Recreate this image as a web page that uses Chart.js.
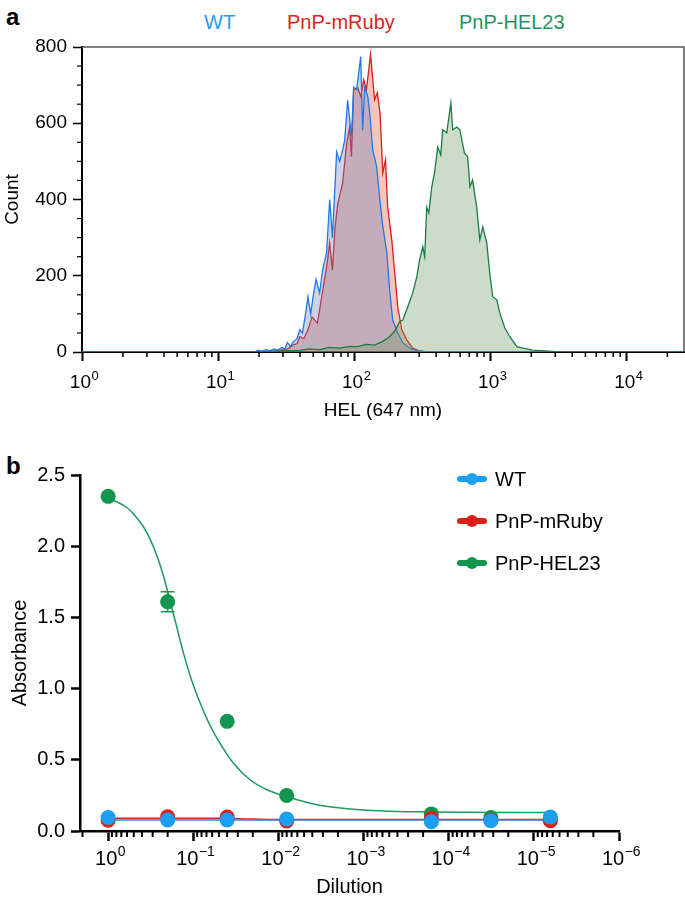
<!DOCTYPE html>
<html>
<head>
<meta charset="utf-8">
<script src="https://cdn.jsdelivr.net/npm/chart.js@4.4.1/dist/chart.umd.min.js"></script>
<style>
    body { margin: 0; width: 685px; height: 904px; background: #fff; position: relative; overflow: hidden;
           font-family: "Liberation Sans", Arial, Helvetica, sans-serif; }
    .panel { position: absolute; left: 0; width: 685px; }
    #wrapA { top: 0; height: 440px; }
    #wrapB { top: 440px; height: 464px; }
    .tag { position: absolute; left: 6px; font-weight: bold; font-size: 24px; line-height: 24px; }
    .hdr { position: absolute; top: 11px; font-size: 20px; line-height: 22px; }
    .leg { position: absolute; left: 457px; font-size: 20px; line-height: 22px; color: #000; }
    .sym { position: absolute; left: 0; top: 8px; width: 30px; height: 6px; border-radius: 3px; }
    .sym::after { content: ''; position: absolute; left: 9px; top: -3px; width: 12px; height: 12px; border-radius: 6px; background: inherit; }
    .leg span { position: absolute; left: 38px; top: 0; white-space: nowrap; }
</style>
</head>
<body>
<div class="tag" style="top:5px">a</div>
<div class="tag" style="top:454px">b</div>

<div class="hdr" style="left:204px; color:#2a9bf0">WT</div>
<div class="hdr" style="left:287px; color:#d8261d">PnP-mRuby</div>
<div class="hdr" style="left:459px; color:#1e9560">PnP-HEL23</div>

<div class="panel" id="wrapA"><canvas id="chartA" width="685" height="440"></canvas></div>
<div class="panel" id="wrapB"><canvas id="chartB" width="685" height="464"></canvas></div>

<div class="leg" style="top:468px"><div class="sym" style="background:#1c9ff0"></div><span>WT</span></div>
<div class="leg" style="top:510px"><div class="sym" style="background:#dd1f1a"></div><span>PnP-mRuby</span></div>
<div class="leg" style="top:552px"><div class="sym" style="background:#139550"></div><span>PnP-HEL23</span></div>

<script>
// ---- panel a: flow histograms (x = log10 of HEL intensity) ----
const wtExp = [0, 1.27, 1.29, 1.32, 1.35, 1.38, 1.41, 1.44, 1.47, 1.49, 1.51, 1.53, 1.555, 1.58, 1.60, 1.62, 1.64, 1.66, 1.68, 1.70,
    1.72, 1.746, 1.768, 1.797, 1.82, 1.84, 1.871, 1.893, 1.915, 1.93, 1.952, 1.98, 1.996, 2.018, 2.048, 2.062, 2.077, 2.10, 2.114, 2.136,
    2.165, 2.188, 2.21, 2.24, 2.26, 2.283, 2.32, 2.357, 2.408, 2.445, 2.496, 2.54, 4.43];
const wtCount = [0, 0, 5, 2, 6, 3, 8, 5, 12, 8, 25, 15, 28, 35, 58, 50, 95, 145, 100, 150,
    190, 155, 215, 260, 400, 300, 525, 500, 530, 555, 660, 565, 695, 688, 775, 582, 695, 670, 627, 530,
    486, 400, 330, 260, 163, 84, 50, 24, 10, 5, 2, 0, 0];

const rubyExp = [0, 1.39, 1.45, 1.51, 1.55, 1.58, 1.60, 1.63, 1.66, 1.69, 1.73, 1.75, 1.77, 1.80, 1.82, 1.84, 1.86, 1.88, 1.915, 1.945,
    1.967, 1.98, 1.996, 2.026, 2.048, 2.07, 2.09, 2.12, 2.15, 2.17, 2.19, 2.21, 2.23, 2.246, 2.276, 2.298, 2.32, 2.35, 2.386, 2.43,
    2.48, 2.54, 4.43];
const rubyCount = [0, 0, 4, 8, 18, 22, 40, 35, 58, 92, 76, 120, 163, 230, 286, 215, 330, 390, 443, 548,
    590, 512, 688, 693, 670, 714, 688, 780, 662, 680, 627, 470, 504, 380, 294, 207, 118, 58, 32, 10,
    3, 0, 0];

const helExp = [0, 1.27, 1.45, 1.60, 1.67, 1.746, 1.82, 1.893, 1.967, 2.026, 2.09, 2.15, 2.21, 2.26, 2.298, 2.335, 2.357, 2.393, 2.43, 2.46,
    2.48, 2.504, 2.518, 2.533, 2.548, 2.57, 2.59, 2.614, 2.636, 2.65, 2.68, 2.71, 2.724, 2.754, 2.776, 2.81, 2.834, 2.85, 2.87, 2.90,
    2.923, 2.945, 2.974, 2.996, 3.018, 3.048, 3.07, 3.107, 3.143, 3.195, 3.24, 3.31, 3.40, 3.51, 4.43];
const helCount = [0, 0, 3, 4, 8, 6, 12, 10, 15, 14, 20, 18, 28, 40, 55, 80, 84, 118, 155, 197,
    241, 276, 250, 380, 365, 433, 470, 538, 517, 583, 575, 653, 583, 590, 583, 522, 512, 433, 451, 380,
    294, 328, 286, 207, 145, 137, 102, 63, 40, 14, 10, 5, 3, 0, 0];

const histPowers = [0, 1, 2, 3, 4];
const countTicks = [0, 200, 400, 600, 800];

// ---- panel b: ELISA dilution series ----
const dilution = [1, 0.2, 0.04, 0.008, 0.00016, 0.000032, 0.0000064];
const wtAbs = [0.095, 0.077, 0.077, 0.084, 0.065, 0.072, 0.098];
const rubyAbs = [0.075, 0.100, 0.098, 0.070, 0.090, 0.075, 0.072];
const hel23Abs = [2.35, 1.61, 0.77, 0.25, 0.12, 0.094, 0.09];
const hel23Sem = [0, 0.07, 0, 0, 0, 0, 0];

// fitted curves (x as log10 dilution)
const hel23FitExp = [0, -0.106, -0.223, -0.293, -0.411, -0.493, -0.575, -0.646, -0.704, -0.786,
    -0.88, -0.986, -1.08, -1.174, -1.279, -1.373, -1.467, -1.667, -1.866, -2.101, -2.453, -2.84, -3.627, -5.19];
const hel23FitAbs = [2.33, 2.31, 2.27, 2.23, 2.14, 2.05, 1.93, 1.80, 1.67, 1.48,
    1.26, 1.05, 0.90, 0.77, 0.65, 0.56, 0.48, 0.36, 0.29, 0.24, 0.185, 0.155, 0.135, 0.13];
const rubyFitExp = [0, -1.3, -1.7, -2.1, -5.19];
const rubyFitAbs = [0.09, 0.09, 0.084, 0.08, 0.08];
const wtFitExp = [0, -5.19];
const wtFitAbs = [0.078, 0.078];

const dilutionPowers = [0, -1, -2, -3, -4, -5, -6];
const absTicks = [0, 0.5, 1.0, 1.5, 2.0, 2.5];

const FONT = '"Liberation Sans", Arial, Helvetica, sans-serif';

function toPoints(exps, ys) {
    return exps.map((e, i) => ({ x: Math.pow(10, e), y: ys[i] }));
}

function minorLogValues(lo, hi, maxVal) {
    const out = [];
    for (let n = lo; n <= hi; n++) {
        for (let k = 2; k <= 9; k++) {
            const v = k * Math.pow(10, n);
            if (v <= maxVal) out.push(v);
        }
    }
    return out;
}

// minor ticks, superscript tick labels, frame and error bars
const axisExtras = {
    id: 'axisExtras',
    beforeDatasetsDraw(chart, args, opts) {
        if (!opts.errors) return;
        const ctx = chart.ctx;
        const xs = chart.scales.x, ys = chart.scales.y;
        const e = opts.errors;
        ctx.save();
        ctx.strokeStyle = e.color;
        ctx.lineWidth = 1.5;
        e.x.forEach((xv, i) => {
            if (!e.err[i]) return;
            const px = xs.getPixelForValue(xv);
            const y1 = ys.getPixelForValue(e.y[i] - e.err[i]);
            const y2 = ys.getPixelForValue(e.y[i] + e.err[i]);
            ctx.beginPath();
            ctx.moveTo(px, y1); ctx.lineTo(px, y2);
            ctx.moveTo(px - 7, y1); ctx.lineTo(px + 7, y1);
            ctx.moveTo(px - 7, y2); ctx.lineTo(px + 7, y2);
            ctx.stroke();
        });
        ctx.restore();
    },
    afterDraw(chart, args, opts) {
        const ctx = chart.ctx;
        const { left, right, top, bottom } = chart.chartArea;
        ctx.save();
        if (opts.frame) {
            ctx.strokeStyle = '#555';
            ctx.lineWidth = 1.5;
            ctx.beginPath();
            ctx.moveTo(left, top); ctx.lineTo(right, top); ctx.lineTo(right, bottom);
            ctx.stroke();
        }
        (opts.minor || []).forEach(m => {
            const scale = chart.scales[m.axis];
            ctx.strokeStyle = '#000';
            ctx.lineWidth = m.width;
            m.values.forEach(v => {
                const p = scale.getPixelForValue(v);
                ctx.beginPath();
                if (scale.isHorizontal()) {
                    ctx.moveTo(p, scale.top); ctx.lineTo(p, scale.top + m.length);
                } else {
                    ctx.moveTo(scale.right, p); ctx.lineTo(scale.right - m.length, p);
                }
                ctx.stroke();
            });
        });
        if (opts.powers) {
            const pw = opts.powers;
            const scale = chart.scales.x;
            ctx.fillStyle = '#000';
            ctx.textBaseline = 'alphabetic';
            ctx.textAlign = 'left';
            pw.exps.forEach(e => {
                const p = scale.getPixelForValue(Math.pow(10, e));
                const sup = e < 0 ? '\u2212' + Math.abs(e) : String(e);
                ctx.font = pw.size + 'px ' + FONT;
                const w1 = ctx.measureText('10').width;
                ctx.font = pw.supSize + 'px ' + FONT;
                const w2 = ctx.measureText(sup).width;
                const x0 = p - (w1 + w2) / 2 + pw.shift;
                ctx.font = pw.size + 'px ' + FONT;
                ctx.fillText('10', x0, pw.y);
                ctx.font = pw.supSize + 'px ' + FONT;
                ctx.fillText(sup, x0 + w1 + 0.5, pw.y - pw.raise);
            });
        }
        ctx.restore();
    }
};

// ---------- chart a ----------
new Chart(document.getElementById('chartA'), {
    type: 'line',
    data: {
        datasets: [
            {
                data: toPoints(helExp, helCount), order: 1,
                borderColor: 'rgb(25,125,70)', backgroundColor: 'rgba(111,154,97,0.35)'
            },
            {
                data: toPoints(wtExp, wtCount), order: 2,
                borderColor: 'rgb(35,120,230)', backgroundColor: 'rgba(111,126,183,0.35)'
            },
            {
                data: toPoints(rubyExp, rubyCount), order: 3,
                borderColor: 'rgb(215,30,30)', backgroundColor: 'rgba(222,92,62,0.35)'
            }
        ]
    },
    options: {
        responsive: false,
        animation: false,
        events: [],
        elements: {
            line: { borderWidth: 1.3, tension: 0, fill: 'origin' },
            point: { radius: 0 }
        },
        layout: { padding: { left: 0, right: 1, top: 47, bottom: 0 } },
        scales: {
            x: {
                type: 'logarithmic',
                min: 1,
                max: 26500,
                afterBuildTicks: s => { s.ticks = histPowers.map(e => ({ value: Math.pow(10, e) })); },
                afterFit: s => { s.height = 88; },
                ticks: { display: false },
                grid: { drawOnChartArea: false, drawTicks: true, tickLength: 9, tickWidth: 2, tickColor: '#000' },
                border: { display: true, color: '#000', width: 2 },
                title: {
                    display: true, text: 'HEL (647 nm)', color: '#000',
                    font: { family: FONT, size: 19 }, padding: { top: 0, bottom: 18 }
                }
            },
            y: {
                min: 0,
                max: 800,
                afterBuildTicks: s => { s.ticks = countTicks.map(v => ({ value: v })); },
                afterFit: s => { s.width = 82; },
                ticks: { color: '#000', font: { family: FONT, size: 19 }, padding: 6 },
                grid: { drawOnChartArea: false, drawTicks: true, tickLength: 9, tickWidth: 1.5, tickColor: '#000' },
                border: { display: true, color: '#000', width: 2 },
                title: {
                    display: true, text: 'Count', color: '#000',
                    font: { family: FONT, size: 19 }, padding: { top: 1, bottom: 0 }
                }
            }
        },
        plugins: {
            legend: { display: false },
            tooltip: { enabled: false },
            axisExtras: {
                frame: true,
                minor: [
                    { axis: 'x', values: minorLogValues(0, 4, 26500), length: 5, width: 1.5 },
                    { axis: 'y', values: [50, 100, 150, 250, 300, 350, 450, 500, 550, 650, 700, 750], length: 5, width: 1.2 }
                ],
                powers: { exps: histPowers, y: 388, size: 19, supSize: 13, raise: 8, shift: 2 }
            }
        }
    },
    plugins: [axisExtras]
});

// ---------- chart b ----------
new Chart(document.getElementById('chartB'), {
    type: 'scatter',
    data: {
        datasets: [
            {
                data: toPoints(hel23FitExp, hel23FitAbs), order: 7, showLine: true,
                borderColor: '#1f9a5c', borderWidth: 1.5, pointRadius: 0, cubicInterpolationMode: 'monotone'
            },
            {
                data: toPoints(rubyFitExp, rubyFitAbs), order: 6, showLine: true,
                borderColor: '#c8282a', borderWidth: 1.5, pointRadius: 0, cubicInterpolationMode: 'monotone'
            },
            {
                data: toPoints(wtFitExp, wtFitAbs), order: 5, showLine: true,
                borderColor: '#3f7fd0', borderWidth: 1.5, pointRadius: 0
            },
            {
                data: dilution.map((d, i) => ({ x: d, y: hel23Abs[i] })), order: 3,
                pointRadius: 7.5, pointBackgroundColor: '#139550', pointBorderWidth: 0
            },
            {
                data: dilution.map((d, i) => ({ x: d, y: rubyAbs[i] })), order: 2,
                pointRadius: 7.5, pointBackgroundColor: '#dd1f1a', pointBorderWidth: 0
            },
            {
                data: dilution.map((d, i) => ({ x: d, y: wtAbs[i] })), order: 1,
                pointRadius: 7.5, pointBackgroundColor: '#1c9ff0', pointBorderWidth: 0
            }
        ]
    },
    options: {
        responsive: false,
        animation: false,
        events: [],
        layout: { padding: { left: 0, right: 66, top: 35, bottom: 0 } },
        scales: {
            x: {
                type: 'logarithmic',
                reverse: true,
                min: 1e-6,
                max: 2.14,
                afterBuildTicks: s => { s.ticks = dilutionPowers.map(e => ({ value: Math.pow(10, e) })); },
                afterFit: s => { s.height = 73; },
                ticks: { display: false },
                grid: { drawOnChartArea: false, drawTicks: true, tickLength: 10, tickWidth: 2.5, tickColor: '#000' },
                border: { display: true, color: '#000', width: 2.5 },
                title: {
                    display: true, text: 'Dilution', color: '#000',
                    font: { family: FONT, size: 20 }, padding: { top: 0, bottom: 5 }
                }
            },
            y: {
                min: 0,
                max: 2.5,
                afterBuildTicks: s => { s.ticks = absTicks.map(v => ({ value: v })); },
                afterFit: s => { s.width = 80; },
                ticks: { color: '#000', font: { family: FONT, size: 20 }, padding: 6, callback: v => Number(v).toFixed(1) },
                grid: { drawOnChartArea: false, drawTicks: true, tickLength: 9, tickWidth: 2.5, tickColor: '#000' },
                border: { display: true, color: '#000', width: 2.5 },
                title: {
                    display: true, text: 'Absorbance', color: '#000',
                    font: { family: FONT, size: 20 }, padding: { top: 8, bottom: 0 }
                }
            }
        },
        plugins: {
            legend: { display: false },
            tooltip: { enabled: false },
            axisExtras: {
                minor: [
                    { axis: 'x', values: minorLogValues(-6, 0, 2.14), length: 6, width: 2 }
                ],
                powers: { exps: dilutionPowers, y: 425, size: 20, supSize: 14, raise: 9, shift: 2 },
                errors: { x: dilution, y: hel23Abs, err: hel23Sem, color: '#139550' }
            }
        }
    },
    plugins: [axisExtras]
});
</script>
</body>
</html>
